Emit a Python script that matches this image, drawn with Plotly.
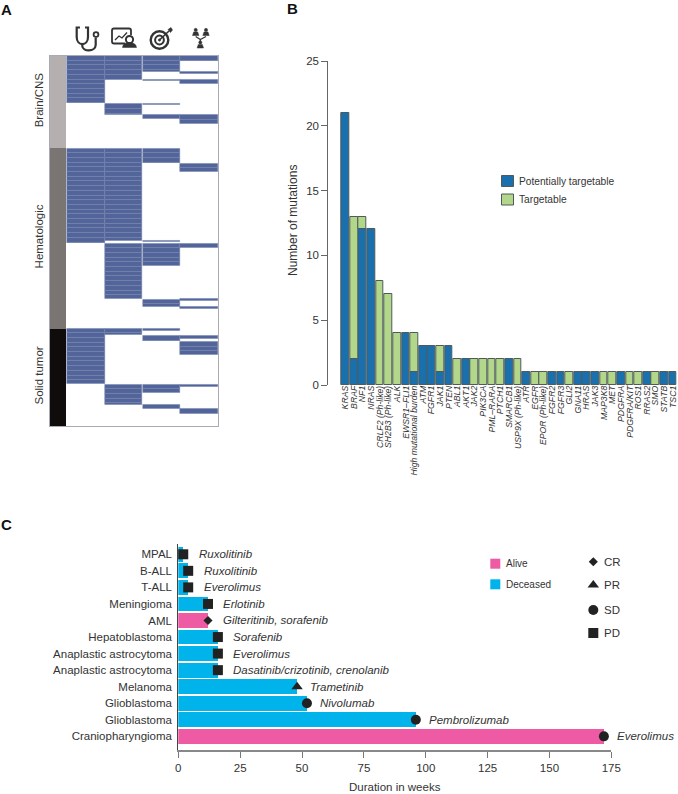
import plotly.graph_objects as go

# panel A: spans are in case rows, one list per column
heat_columns = [0.5, 1.5, 2.5, 3.5]
clinical_spans = [(0, 10.06), (19.7, 39.79), (58, 69.79)]
monitoring_spans = [(0, 5), (10.3, 12.55), (19.7, 39.28), (39.91, 51.7), (58, 59.43), (69.91, 74.17)]
target_spans = [(0, 3.46), (5.17, 5.38), (10.13, 10.43), (12.6, 13.47), (19.7, 22.77), (39.28, 39.64),
                (39.91, 44.6), (51.83, 53.32), (58, 58.57), (59.64, 60.7), (69.91, 71.7), (74.26, 75.1)]
family_spans = [(0, 1.06), (3.47, 3.9), (5.17, 6), (12.6, 14.4), (22.89, 24.68), (39.91, 40.91), (51.7, 52.04),
                (53.4, 53.89), (59.49, 60.13), (60.85, 63.53), (69.91, 70.43), (75.1, 76.09)]
group_names = ['Brain/CNS', 'Hematologic', 'Solid tumor']
group_starts = [0, 19.65, 58]
group_sizes = [19.65, 38.35, 20.79]
group_colors = ['#b5b0af', '#7a7572', '#100c0c']
total_rows = 78.79

# panel B
genes = ['KRAS', 'BRAF', 'NF1', 'NRAS', 'CRLF2 (Ph-like)', 'SH2B3 (Ph-like)', 'ALK', 'EWSR1–FLI1',
         'High mutational burden', 'ATM', 'FGFR1', 'JAK1', 'PTEN', 'ABL1', 'AKT1', 'JAK2', 'PIK3CA', 'PML–RARA',
         'PTCH1', 'SMARCB1', 'USP9X (Ph-like)', 'ATR', 'EGFR', 'EPOR (Ph-like)', 'FGFR2', 'FGFR3', 'GLI2', 'GNA11',
         'HRAS', 'JAK3', 'MAP3K8', 'MET', 'PDGFRA', 'PDGFRA/KIT', 'ROS1', 'RRAS2', 'SMO', 'STATB', 'TSC1']
potentially = [21, 2, 12, 12, None, None, None, 4, 1, 3, 3, 1, 3, None, 2, None, None, None, None, 2, None,
               1, None, None, 1, 1, None, 1, 1, 1, None, None, 1, None, None, 1, None, 1, 1]
targetable = [None, 11, 1, None, 8, 7, 4, None, 3, None, None, 2, None, 2, None, 2, 2, 2, 2, None, 2,
              None, 1, 1, None, None, 1, None, None, None, 1, 1, None, 1, 1, None, 1, None, None]

# panel C
diagnoses = ['MPAL', 'B-ALL', 'T-ALL', 'Meningioma', 'AML', 'Hepatoblastoma', 'Anaplastic astrocytoma',
             'Anaplastic astrocytoma', 'Melanoma', 'Glioblastoma', 'Glioblastoma', 'Craniopharyngioma']
weeks = [2, 4, 4, 12, 12, 16, 16, 16, 48, 52, 96, 172]
status = ['Deceased', 'Deceased', 'Deceased', 'Deceased', 'Alive', 'Deceased', 'Deceased', 'Deceased',
          'Deceased', 'Deceased', 'Deceased', 'Alive']
response = ['PD', 'PD', 'PD', 'PD', 'CR', 'PD', 'PD', 'PD', 'PR', 'SD', 'SD', 'SD']
drugs = ['Ruxolitinib', 'Ruxolitinib', 'Everolimus', 'Erlotinib', 'Gilteritinib, sorafenib', 'Sorafenib',
         'Everolimus', 'Dasatinib/crizotinib, crenolanib', 'Trametinib', 'Nivolumab', 'Pembrolizumab', 'Everolimus']

FONT = 'Liberation Sans'
TEXT = '#333333'
BLUE = '#1a6fad'
GREEN = '#b3d78a'
HEAT = '#52649a'
status_colors = {'Alive': '#ee5aa3', 'Deceased': '#00b3ea'}
response_symbols = {'CR': 'diamond', 'PR': 'triangle-up', 'SD': 'circle', 'PD': 'square'}
response_sizes = {'CR': 7, 'PR': 10, 'SD': 10, 'PD': 10}
W, H = 678, 794


def dom_x(a, b):
    return [a / W, b / W]


def dom_y(top, bottom):
    return [1 - bottom / H, 1 - top / H]


def add_heat_column(fig, col, spans):
    """ One bar per case row so the thin row lines show up"""
    bases, sizes = [], []
    for start, end in spans:
        pos = start
        while pos < end - 1e-6:
            bases.append(pos)
            sizes.append(min(1, end - pos))
            pos += 1
    fig.add_trace(go.Bar(x=[col] * len(bases), y=sizes, base=bases, width=0.99, xaxis='x', yaxis='y',
                         marker=dict(color=HEAT, line=dict(color='#7483ad', width=0.5)), showlegend=False))


def text_note(x, y, text, size=11.5, anchor='left', color=TEXT, weight=None, angle=0):
    return dict(x=x, y=y, xref='x4', yref='y4', text=text, showarrow=False, xanchor=anchor, yanchor='middle',
                textangle=angle, font=dict(family=FONT, size=size, color=color, weight=weight))


def icon_line(path, width=2.2):
    return dict(type='path', path=path, xref='x4', yref='y4', line=dict(color='#333333', width=width))


def icon_fill(path, color='#333333'):
    return dict(type='path', path=path, xref='x4', yref='y4', fillcolor=color, line=dict(color=color, width=0.5))


def icon_circle(cx, cy, r, fill=None, width=2.2):
    return dict(type='circle', x0=cx - r, x1=cx + r, y0=cy - r, y1=cy + r, xref='x4', yref='y4',
                fillcolor=fill if fill else 'rgba(0,0,0,0)',
                line=dict(color='#333333', width=width))


def person(cx, cy):
    return [icon_circle(cx, cy - 2.6, 1.6, fill='#333333', width=0.5),
            icon_fill(f'M{cx - 3.2},{cy + 3} L{cx - 2},{cy - 0.6} H{cx + 2} L{cx + 3.2},{cy + 3} Z')]


def header_icons():
    shapes = [
        # stethoscope
        icon_line('M80,27.5 H76.7 V37 C76.7,46.5 88,46.5 88,37 V27.5 H85'),
        icon_line('M82.3,44 V46 C82.5,52 95.5,52 95.7,45 V38'),
        icon_circle(96, 34.6, 2.4, width=1.8),
        # chart with magnifier
        icon_line('M114,28.5 H129 Q131,28.5 131,30.5 V35 M125,43.5 H114 Q112,43.5 112,41.5 V30.5 Q112,28.5 114,28.5', 1.8),
        icon_line('M115,40 L119,36 L122,38 L127,32.5', 1.3),
        icon_fill('M122.5,47.5 Q123,42.5 129,42.5 Q136,42.5 136.5,47.5 Z'),
        icon_circle(129.5, 39.5, 3.6, fill='white', width=2),
        # target with arrow
        icon_circle(159.5, 40, 8.8, width=2.4),
        icon_circle(159.5, 40, 4.4, width=2),
        icon_circle(159.5, 40, 1.2, fill='#333333', width=0.5),
        icon_line('M160,39.5 L169,31', 1.6),
        icon_fill('M168,29.5 L171,27.5 L172.5,30 L170.5,32.5 Z'),
        # family tree
        icon_line('M195.7,36.5 L200.3,39.5 L206,36.5 M200.3,39.5 V42', 1.2),
    ]
    for cx, cy in [(195.7, 32.5), (206, 32.5), (200.3, 45)]:
        shapes += person(cx, cy)
    return shapes


fig = go.Figure()

# panel A
fig.add_trace(go.Bar(x=[-0.245] * 3, y=group_sizes, base=group_starts, width=0.41, xaxis='x', yaxis='y',
                     marker=dict(color=group_colors, line=dict(width=0)), showlegend=False))
for col, spans in zip(heat_columns, [clinical_spans, monitoring_spans, target_spans, family_spans]):
    add_heat_column(fig, col, spans)

# panel B
positions = list(range(len(genes)))
fig.add_trace(go.Bar(x=positions, y=potentially, name='Potentially targetable', width=0.9, xaxis='x2', yaxis='y2',
                     marker=dict(color=BLUE, line=dict(color='#4f5b5b', width=1)), showlegend=False))
fig.add_trace(go.Bar(x=positions, y=targetable, base=[p or 0 for p in potentially], name='Targetable', width=0.9,
                     xaxis='x2', yaxis='y2',
                     marker=dict(color=GREEN, line=dict(color='#4f5b5b', width=1)), showlegend=False))

# panel C
rows = list(range(len(diagnoses)))
for name, color in status_colors.items():
    idx = [i for i in rows if status[i] == name]
    fig.add_trace(go.Bar(x=[weeks[i] for i in idx], y=idx, name=name, orientation='h', width=0.9, xaxis='x3', yaxis='y3',
                         marker=dict(color=color, line=dict(width=0)), showlegend=False))
for name, symbol in response_symbols.items():
    idx = [i for i in rows if response[i] == name]
    fig.add_trace(go.Scatter(x=[weeks[i] for i in idx], y=idx, name=name, mode='markers', xaxis='x3', yaxis='y3',
                             marker=dict(symbol=symbol, size=response_sizes[name], color='#222222'),
                             cliponaxis=False, showlegend=False))

# legend keys live on a full page axis measured in pixels
legend_b = [('Potentially targetable', BLUE, 181), ('Targetable', GREEN, 199.5)]
legend_status = [('Alive', status_colors['Alive'], 563.7), ('Deceased', status_colors['Deceased'], 584.3)]
legend_resp = [('CR', 561.7), ('PR', 585), ('SD', 610), ('PD', 633)]
notes, shapes = [], header_icons()
for label, color, y in legend_b:
    shapes.append(dict(type='rect', x0=501.5, x1=513.5, y0=y - 5.5, y1=y + 5.5, xref='x4', yref='y4', fillcolor=color,
                       line=dict(color='#4f5b5b', width=1)))
    notes.append(text_note(516.5, y, label, size=10.2))
for label, color, y in legend_status:
    shapes.append(dict(type='rect', x0=490.3, x1=500.3, y0=y - 5, y1=y + 5, xref='x4', yref='y4', fillcolor=color,
                       line=dict(width=0)))
    notes.append(text_note(504, y, label, size=10))
for label, y in legend_resp:
    fig.add_trace(go.Scatter(x=[593.3], y=[y], mode='markers', xaxis='x4', yaxis='y4', showlegend=False,
                             marker=dict(symbol=response_symbols[label], size=response_sizes[label], color='#222222')))
    notes.append(text_note(602, y, label))

for label, x, y in [('A', 6, 9), ('B', 292, 8), ('C', 6, 524)]:
    notes.append(text_note(x, y, label, size=15, anchor='center', color='#111111', weight='bold'))

# axis titles placed by hand, standoff pushes the margins around
notes.append(text_note(293, 221, 'Number of mutations', size=12, anchor='center', angle=-90))
notes.append(text_note(394.8, 787, 'Duration in weeks', anchor='center'))

# drug names sit a fixed distance right of the response marker
for i, drug in enumerate(drugs):
    notes.append(dict(x=weeks[i], y=i, xref='x3', yref='y3', text=f'<i>{drug}</i>', showarrow=False, xanchor='left',
                      xshift=11 if weeks[i] > 40 else 13.5, font=dict(family=FONT, size=11.5, color=TEXT)))

fig.update_layout(
    width=W, height=H, margin=dict(l=0, r=0, t=0, b=0, autoexpand=False), autosize=False,
    paper_bgcolor='white', plot_bgcolor='rgba(0,0,0,0)', barmode='overlay', bargap=0,
    font=dict(family=FONT, color=TEXT), annotations=notes, shapes=shapes,
    xaxis=dict(domain=dom_x(50, 218), range=[-0.451, 4.005], showgrid=False, zeroline=False, showticklabels=False,
               ticks='', showline=True, mirror=True, linecolor='#a9aab5', linewidth=1),
    yaxis=dict(domain=dom_y(55.7, 426), range=[total_rows, 0], showgrid=False, zeroline=False, anchor='x',
               showline=True, mirror=True, linecolor='#a9aab5', linewidth=1,
               tickmode='array', ticks='', tickangle=-90, ticklabelstandoff=1,
               tickvals=[g + s / 2 for g, s in zip(group_starts, group_sizes)], ticktext=group_names,
               tickfont=dict(family=FONT, size=11.5, color=TEXT)),
    xaxis2=dict(domain=dom_x(328.3, 678), range=[-1.985, 38.6], anchor='y2', showgrid=False, zeroline=False, ticks='',
                tickmode='array', tickvals=positions, ticktext=[f'<i>{g}</i>' for g in genes], tickangle=-90,
                tickfont=dict(family=FONT, size=8.7, color=TEXT), ticklabelstandoff=-2, showline=False),
    yaxis2=dict(domain=dom_y(61, 385), range=[0, 25], anchor='x2', showgrid=False, zeroline=False, showline=True,
                linecolor='#666666', linewidth=1, ticks='outside', ticklen=6, tickcolor='#666666', dtick=5,
                tickfont=dict(family=FONT, size=11.5, color=TEXT)),
    xaxis3=dict(domain=dom_x(178.3, 611.3), range=[0, 175], anchor='y3', showgrid=False, zeroline=False, showline=True,
                linecolor='#888888', linewidth=1.5, ticks='outside', ticklen=6, tickcolor='#777777', dtick=25,
                tickfont=dict(family=FONT, size=11.5, color=TEXT)),
    yaxis3=dict(domain=dom_y(544, 750), range=[11.825, -0.622], anchor='x3', showgrid=False, zeroline=False, showline=True,
                linecolor='#444444', linewidth=1, ticks='', tickmode='array', tickvals=rows, ticktext=diagnoses,
                ticklabelstandoff=3, tickfont=dict(family=FONT, size=11.5, color=TEXT)),
    xaxis4=dict(domain=[0, 1], range=[0, W], anchor='y4', visible=False, fixedrange=True),
    yaxis4=dict(domain=[0, 1], range=[H, 0], anchor='x4', visible=False, fixedrange=True),
)

fig.write_html("out.html", config={'displayModeBar': False},
               post_script="document.body.style.margin='0';document.body.style.overflow='hidden';")
